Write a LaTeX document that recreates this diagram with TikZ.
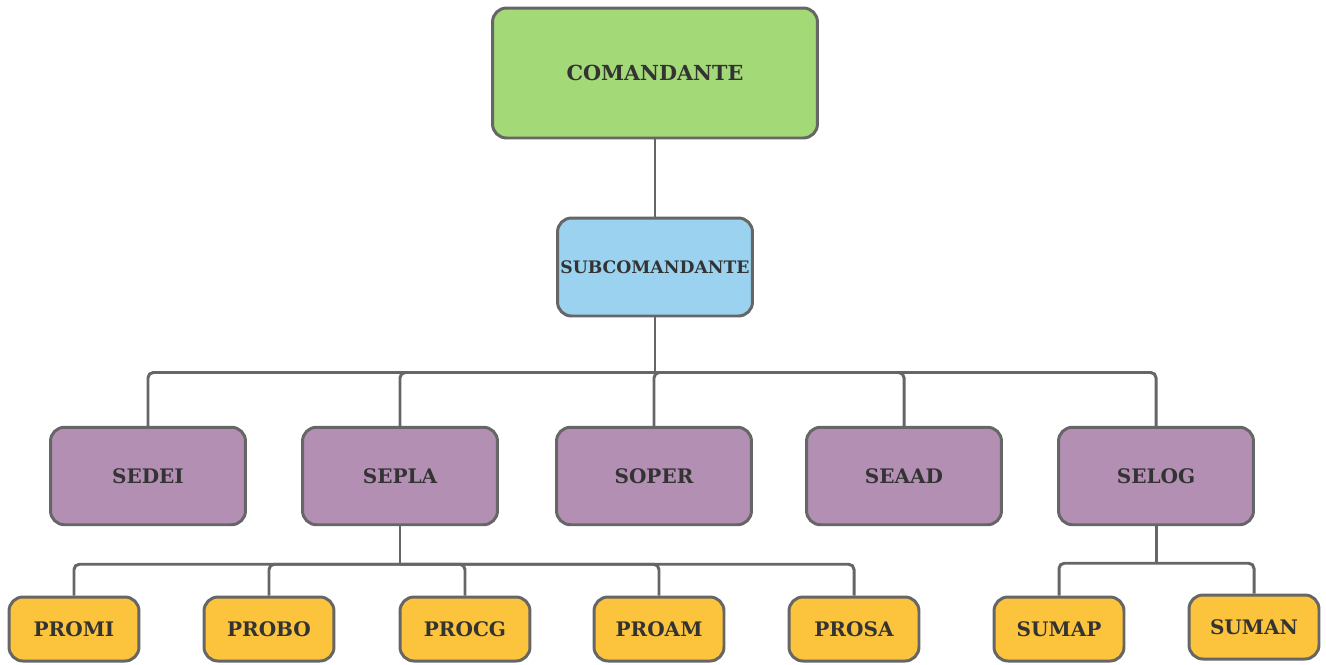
\documentclass[tikz,border=0pt]{standalone}
\usepackage{fontspec}
\setmainfont{DejaVu Serif}
\usetikzlibrary{positioning}
\definecolor{Line}{HTML}{666666}
\definecolor{Ink}{HTML}{333333}
\definecolor{Head}{HTML}{A3D977}
\definecolor{Sub}{HTML}{9AD2F0}
\definecolor{Sec}{HTML}{B48FB4}
\definecolor{Unit}{HTML}{FBC43C}

\begin{document}
\begin{tikzpicture}[x=0.02cm,y=-0.02cm,
  box/.style={draw=Line,line width=1.7pt,rounded corners=0.28cm,text=Ink,
    font=\bfseries\fontsize{11.4}{13}\selectfont,align=center},
  wire/.style={draw=Line,line width=1.7pt,rounded corners=3pt}]
\useasboundingbox (0,0) rectangle (1326,664);
% top
\node[box,fill=Head,minimum width=6.5cm,minimum height=2.6cm,
  font=\bfseries\fontsize{11.8}{14}\selectfont] (cmd) at (655,73) {COMANDANTE};
\node[box,fill=Sub,minimum width=3.9cm,minimum height=1.96cm,inner xsep=1pt,
  font=\bfseries\fontsize{9.8}{12}\selectfont] (sub) at (655,267) {SUBCOMANDANTE};
% sections
\node[box,fill=Sec,minimum width=3.9cm,minimum height=1.95cm] (sedei) at (148,476) {SEDEI};
\node[box,fill=Sec,minimum width=3.9cm,minimum height=1.95cm] (sepla) at (400,476) {SEPLA};
\node[box,fill=Sec,minimum width=3.9cm,minimum height=1.95cm] (soper) at (654,476) {SOPER};
\node[box,fill=Sec,minimum width=3.9cm,minimum height=1.95cm] (seaad) at (904,476) {SEAAD};
\node[box,fill=Sec,minimum width=3.9cm,minimum height=1.95cm] (selog) at (1156,476) {SELOG};
% units
\node[box,fill=Unit,minimum width=2.6cm,minimum height=1.28cm] (promi) at (74,629) {PROMI};
\node[box,fill=Unit,minimum width=2.6cm,minimum height=1.28cm] (probo) at (269,629) {PROBO};
\node[box,fill=Unit,minimum width=2.6cm,minimum height=1.28cm] (procg) at (465,629) {PROCG};
\node[box,fill=Unit,minimum width=2.6cm,minimum height=1.28cm] (proam) at (659,629) {PROAM};
\node[box,fill=Unit,minimum width=2.6cm,minimum height=1.28cm] (prosa) at (854,629) {PROSA};
\node[box,fill=Unit,minimum width=2.6cm,minimum height=1.28cm] (sumap) at (1059,629) {SUMAP};
\node[box,fill=Unit,minimum width=2.6cm,minimum height=1.28cm] (suman) at (1254,627) {SUMAN};
% connectors
\draw[wire] (cmd) -- (sub);
\path (sub.south) ++(0,55) coordinate (busA);
\path (sepla.south) ++(0,38) coordinate (busB);
\path (selog.south) ++(0,37) coordinate (busC);
\draw[wire] (sub.south) -- (busA);
\draw[wire] (sepla.south) -- (busB);
\draw[wire] (selog.south) -- (busC);
\foreach \n in {sedei,sepla,soper,seaad,selog}
  \draw[wire] (busA) -| (\n.north);
\foreach \n in {promi,probo,procg,proam,prosa}
  \draw[wire] (busB) -| (\n.north);
\foreach \n in {sumap,suman}
  \draw[wire] (busC) -| (\n.north);
\end{tikzpicture}
\end{document}
